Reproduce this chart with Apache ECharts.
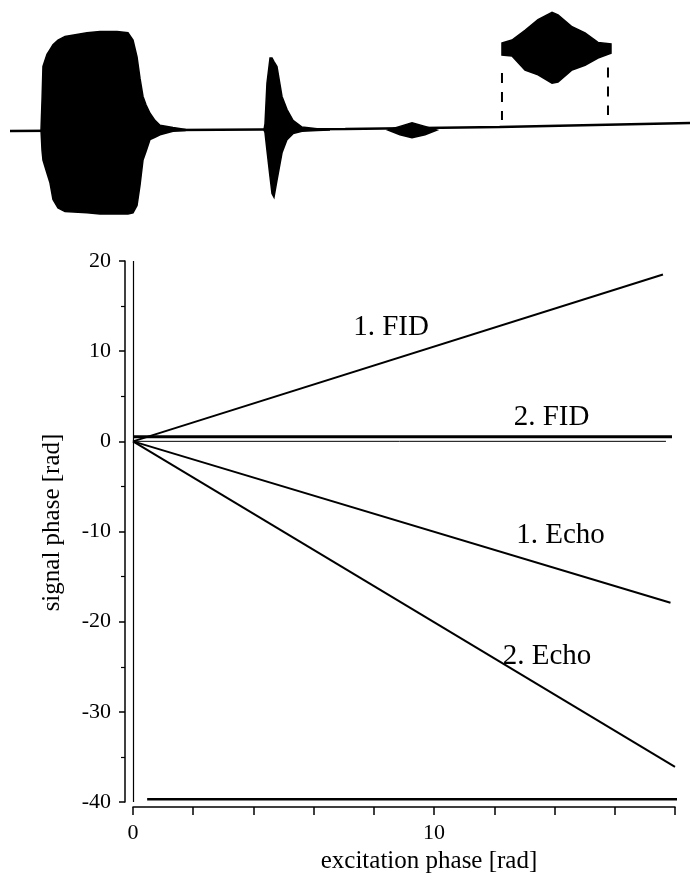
<!DOCTYPE html>
<html>
<head>
<meta charset="utf-8">
<script src="https://cdn.jsdelivr.net/npm/echarts@6/dist/echarts.min.js"></script>
<style>
  html, body { margin: 0; padding: 0; background: #fff; }
  #chart { width: 690px; height: 884px; }
</style>
</head>
<body>
<div id="chart"></div>
<script>
// ---- Phase plot: signal phase against excitation phase ----
const xTickLabels = [0, 10];
const fid1Phase = [[0, 0], [17.6, 18.5]];
const fid2Phase = [[0, 0.5], [17.9, 0.5]];
const zeroPhase = [[0, 0], [17.7, 0]];
const echo1Phase = [[0, 0], [17.85, -17.9]];
const echo2Phase = [[0, 0], [18.0, -36.1]];
const lowerFrame = [[0.47, -39.7], [18.5, -39.7]];

// ---- Received signal trace: burst envelopes as [time, upper, lower] ----
const traceBaseline = [[0, -0.008], [49.3, 0.008], [72, 0.025], [100, 0.058]];
const burstFid1 = [
  [4.56, 0, 0], [4.71, 0.25, -0.17], [4.85, 0.53, -0.25], [5.44, 0.63, -0.36],
  [5.88, 0.67, -0.44], [6.32, 0.71, -0.58], [7.06, 0.75, -0.65], [8.09, 0.78, -0.68],
  [11.32, 0.81, -0.69], [13.24, 0.82, -0.70], [15.74, 0.82, -0.70], [17.35, 0.81, -0.70],
  [18.09, 0.75, -0.69], [18.68, 0.61, -0.63], [19.12, 0.43, -0.46], [19.56, 0.28, -0.25],
  [20.0, 0.21, -0.18], [20.59, 0.14, -0.08], [21.32, 0.08, -0.06], [22.06, 0.04, -0.04],
  [23.97, 0.02, -0.01], [25.74, 0.005, -0.005]
];
const burstFid2 = [
  [37.35, 0, 0], [37.5, 0.05, -0.02], [37.79, 0.39, -0.17], [38.24, 0.60, -0.39],
  [38.53, 0.60, -0.53], [38.82, 0.57, -0.56], [39.26, 0.53, -0.42], [40.0, 0.28, -0.19],
  [40.74, 0.17, -0.08], [41.62, 0.08, -0.03], [42.94, 0.025, -0.01], [45.15, 0.01, -0.005],
  [47.06, 0, 0]
];
const burstEcho1 = [
  [55.59, 0, 0], [57.35, 0.03, -0.04], [59.12, 0.06, -0.065], [61.03, 0.03, -0.04], [62.79, 0, 0]
];
const burstEcho2 = [
  [72.35, 0.725, 0.625], [73.82, 0.75, 0.617], [75.74, 0.83, 0.50], [77.65, 0.92, 0.46],
  [79.71, 0.98, 0.39], [80.59, 0.96, 0.40], [82.65, 0.86, 0.50], [84.56, 0.81, 0.54],
  [86.47, 0.73, 0.60], [88.38, 0.717, 0.64]
];
// window edges of the enlarged echo: [time, top, bottom]
const echoWindow = [[72.35, 0.475, 0.083], [87.94, 0.52, 0.125]];

const SERIF = '"Liberation Serif", "Times New Roman", serif';
const INK = '#000';

function envelope(rows) {
  return {
    type: 'custom',
    xAxisIndex: 1,
    yAxisIndex: 1,
    silent: true,
    data: rows,
    renderItem: function (params, api) {
      if (params.dataIndex !== 0) return null;
      const upper = rows.map(r => api.coord([r[0], r[1]]));
      const lower = rows.slice().reverse().map(r => api.coord([r[0], r[2]]));
      return {
        type: 'polygon',
        shape: { points: upper.concat(lower) },
        style: { fill: INK, stroke: INK, lineWidth: 1.5 }
      };
    }
  };
}

function windowEdges(rows) {
  return {
    type: 'custom',
    xAxisIndex: 1,
    yAxisIndex: 1,
    silent: true,
    data: rows,
    renderItem: function (params, api) {
      const r = rows[params.dataIndex];
      const a = api.coord([r[0], r[1]]);
      const b = api.coord([r[0], r[2]]);
      return {
        type: 'line',
        shape: { x1: a[0], y1: a[1], x2: b[0], y2: b[1] },
        style: { stroke: INK, lineWidth: 2, lineDash: [10, 9] }
      };
    }
  };
}

function phaseLine(name, data, width, labelAt) {
  const s = {
    type: 'line',
    name: name,
    data: data,
    symbol: 'none',
    silent: true,
    lineStyle: { color: INK, width: width },
    z: 3
  };
  if (labelAt) {
    s.markPoint = {
      symbol: 'circle',
      symbolSize: 1,
      silent: true,
      itemStyle: { color: 'rgba(0,0,0,0)' },
      label: {
        show: true, position: 'inside', formatter: name,
        fontFamily: SERIF, fontSize: 29, color: INK
      },
      data: [{ coord: labelAt }]
    };
  }
  return s;
}

const chart = echarts.init(document.getElementById('chart'), null, { renderer: 'canvas' });

chart.setOption({
  animation: false,
  backgroundColor: '#fff',
  grid: [
    { left: 133, right: 15, top: 261, bottom: 82 },
    { left: 10, right: 0, top: 10, height: 240 }
  ],
  xAxis: [
    {
      gridIndex: 0,
      type: 'value',
      min: 0, max: 18, interval: 2,
      offset: 5,
      axisLine: { show: true, onZero: false, lineStyle: { color: INK, width: 1.5 } },
      axisTick: { show: true, length: 8, lineStyle: { color: INK, width: 1.5 } },
      axisLabel: {
        margin: 15, fontFamily: SERIF, fontSize: 22, color: INK,
        formatter: v => (xTickLabels.indexOf(v) >= 0 ? String(v) : '')
      },
      splitLine: { show: false },
      name: 'excitation phase [rad]',
      nameLocation: 'middle',
      nameGap: 31,
      nameTextStyle: { fontFamily: SERIF, fontSize: 25, color: INK, padding: [0, 0, 0, 50] }
    },
    { gridIndex: 1, type: 'value', min: 0, max: 100, show: false }
  ],
  yAxis: [
    {
      gridIndex: 0,
      type: 'value',
      min: -40, max: 20, interval: 10,
      offset: 8,
      axisLine: { show: true, onZero: false, lineStyle: { color: INK, width: 1.5 } },
      axisTick: { show: true, length: 6, lineStyle: { color: INK, width: 1.5 } },
      minorTick: { show: true, splitNumber: 2, length: 4, lineStyle: { color: INK, width: 1.2 } },
      axisLabel: { margin: 14, fontFamily: SERIF, fontSize: 22, color: INK },
      splitLine: { show: false },
      name: 'signal phase [rad]',
      nameLocation: 'middle',
      nameGap: 60,
      nameTextStyle: { fontFamily: SERIF, fontSize: 25, color: INK, padding: [0, 0, 0, 18] }
    },
    { gridIndex: 1, type: 'value', min: -1, max: 1, show: false }
  ],
  series: [
    // signal trace
    {
      type: 'line', xAxisIndex: 1, yAxisIndex: 1, data: traceBaseline,
      symbol: 'none', silent: true, lineStyle: { color: INK, width: 2.5 }
    },
    envelope(burstFid1),
    envelope(burstFid2),
    envelope(burstEcho1),
    envelope(burstEcho2),
    windowEdges(echoWindow),

    // phase plot
    {
      type: 'line', data: zeroPhase, symbol: 'none', silent: true,
      lineStyle: { color: INK, width: 1 },
      markLine: {
        symbol: 'none', silent: true, label: { show: false },
        lineStyle: { color: INK, width: 1.2, type: 'solid' },
        data: [{ xAxis: 0 }]
      }
    },
    {
      type: 'line', data: lowerFrame, symbol: 'none', silent: true, clip: false,
      lineStyle: { color: INK, width: 2.5 }
    },
    phaseLine('1. FID', fid1Phase, 2, [8.57, 12.6]),
    phaseLine('2. FID', fid2Phase, 3, [13.9, 2.7]),
    phaseLine('1. Echo', echo1Phase, 2, [14.2, -10.4]),
    phaseLine('2. Echo', echo2Phase, 2, [13.75, -23.9])
  ]
});
</script>
</body>
</html>
